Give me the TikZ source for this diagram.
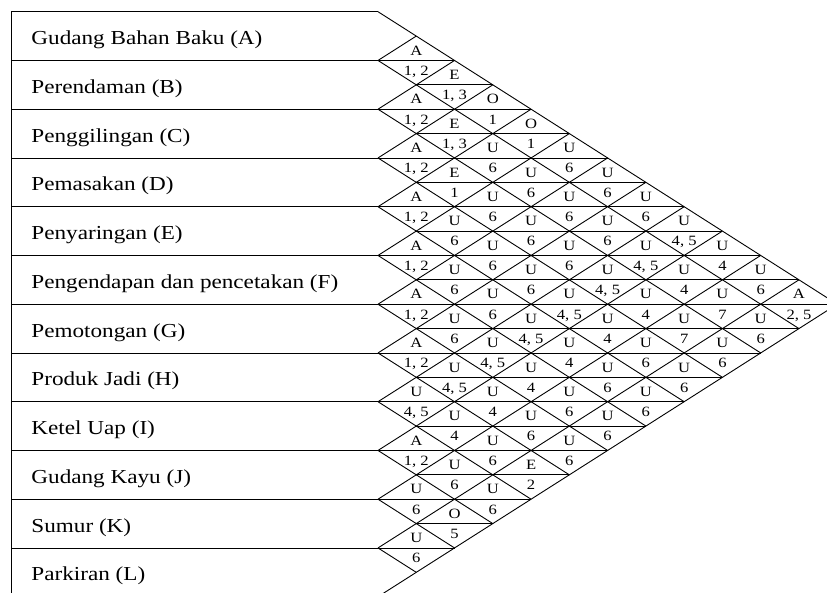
\documentclass[tikz,border=0pt]{standalone}
\usepackage{fontspec}
\setmainfont{Liberation Serif}[FakeStretch=1.17]
\newcommand{\cdx}{38.27}
\newcommand{\chh}{48.75}
\newcommand{\cyT}{11.7}
\newcommand{\cxL}{378}
\newcommand{\cxO}{11}
\newcommand{\relcell}[4]{%
  \node[rl] (u#1-#2) at ({\cxL+(#2-#1)*\cdx},{\cyT+(#1+#2+1)*\chh/2-5.3}) {#3};
  \node[rl] (v#1-#2) at ({\cxL+(#2-#1)*\cdx},{\cyT+(#1+#2+1)*\chh/2+14.8}) {#4};}
\begin{document}
\begin{tikzpicture}[x=1pt,y=-1pt,line width=0.9pt,
  lab/.style={anchor=base west,font=\fontsize{19.8}{22}\selectfont,inner sep=0pt},
  rl/.style={anchor=base,font=\fontsize{14.2}{16}\selectfont,inner sep=0pt},
  gl/.style={draw=black,line width=0.9pt}]
\useasboundingbox (0,0) rectangle (827,592);
% left frame
\draw[gl] (\cxO,\cyT) -- (\cxO,{\cyT+12*\chh});
\draw[gl] (\cxO,\cyT) -- (\cxL,\cyT);
\draw[gl] (\cxO,{\cyT+12*\chh}) -- (\cxL,{\cyT+12*\chh});
% row boundaries continued into the chart
\foreach \m in {1,...,11}
  \draw[gl] (\cxO,{\cyT+\m*\chh}) -- ({\cxL+\cdx*min(2*\m,24-2*\m)},{\cyT+\m*\chh});
% row-centre lines in the chart
\foreach \i in {1,...,10}
  \draw[gl] ({\cxL+\cdx},{\cyT+(\i+0.5)*\chh}) -- ({\cxL+\cdx*min(2*\i+1,23-2*\i)},{\cyT+(\i+0.5)*\chh});
% diagonals down-right
\foreach \m in {0,...,11}
  \draw[gl] (\cxL,{\cyT+\m*\chh}) -- ({\cxL+(12-\m)*\cdx},{\cyT+\m*\chh+(12-\m)*\chh/2});
% diagonals up-right
\foreach \m in {1,...,12}
  \draw[gl] (\cxL,{\cyT+\m*\chh}) -- ({\cxL+\m*\cdx},{\cyT+\m*\chh/2});
% department labels
\node[lab] (dA) at (31,{\cyT+0.5*\chh+8.5}) {Gudang Bahan Baku (A)};
\node[lab] (dB) at (31,{\cyT+1.5*\chh+8.5}) {Perendaman (B)};
\node[lab] (dC) at (31,{\cyT+2.5*\chh+8.5}) {Penggilingan (C)};
\node[lab] (dD) at (31,{\cyT+3.5*\chh+8.5}) {Pemasakan (D)};
\node[lab] (dE) at (31,{\cyT+4.5*\chh+8.5}) {Penyaringan (E)};
\node[lab] (dF) at (31,{\cyT+5.5*\chh+8.5}) {Pengendapan dan pencetakan (F)};
\node[lab] (dG) at (31,{\cyT+6.5*\chh+8.5}) {Pemotongan (G)};
\node[lab] (dH) at (31,{\cyT+7.5*\chh+8.5}) {Produk Jadi (H)};
\node[lab] (dI) at (31,{\cyT+8.5*\chh+8.5}) {Ketel Uap (I)};
\node[lab] (dJ) at (31,{\cyT+9.5*\chh+8.5}) {Gudang Kayu (J)};
\node[lab] (dK) at (31,{\cyT+10.5*\chh+8.5}) {Sumur (K)};
\node[lab] (dL) at (31,{\cyT+11.5*\chh+8.5}) {Parkiran (L)};
% k = 1
\relcell{0}{1}{A}{1, 2}
\relcell{1}{2}{A}{1, 2}
\relcell{2}{3}{A}{1, 2}
\relcell{3}{4}{A}{1, 2}
\relcell{4}{5}{A}{1, 2}
\relcell{5}{6}{A}{1, 2}
\relcell{6}{7}{A}{1, 2}
\relcell{7}{8}{U}{4, 5}
\relcell{8}{9}{A}{1, 2}
\relcell{9}{10}{U}{6}
\relcell{10}{11}{U}{6}
% k = 2
\relcell{0}{2}{E}{1, 3}
\relcell{1}{3}{E}{1, 3}
\relcell{2}{4}{E}{1}
\relcell{3}{5}{U}{6}
\relcell{4}{6}{U}{6}
\relcell{5}{7}{U}{6}
\relcell{6}{8}{U}{4, 5}
\relcell{7}{9}{U}{4}
\relcell{8}{10}{U}{6}
\relcell{9}{11}{O}{5}
% k = 3
\relcell{0}{3}{O}{1}
\relcell{1}{4}{U}{6}
\relcell{2}{5}{U}{6}
\relcell{3}{6}{U}{6}
\relcell{4}{7}{U}{6}
\relcell{5}{8}{U}{4, 5}
\relcell{6}{9}{U}{4}
\relcell{7}{10}{U}{6}
\relcell{8}{11}{U}{6}
% k = 4
\relcell{0}{4}{O}{1}
\relcell{1}{5}{U}{6}
\relcell{2}{6}{U}{6}
\relcell{3}{7}{U}{6}
\relcell{4}{8}{U}{4, 5}
\relcell{5}{9}{U}{4}
\relcell{6}{10}{U}{6}
\relcell{7}{11}{E}{2}
% k = 5
\relcell{0}{5}{U}{6}
\relcell{1}{6}{U}{6}
\relcell{2}{7}{U}{6}
\relcell{3}{8}{U}{4, 5}
\relcell{4}{9}{U}{4}
\relcell{5}{10}{U}{6}
\relcell{6}{11}{U}{6}
% k = 6
\relcell{0}{6}{U}{6}
\relcell{1}{7}{U}{6}
\relcell{2}{8}{U}{4, 5}
\relcell{3}{9}{U}{4}
\relcell{4}{10}{U}{6}
\relcell{5}{11}{U}{6}
% k = 7
\relcell{0}{7}{U}{6}
\relcell{1}{8}{U}{4, 5}
\relcell{2}{9}{U}{4}
\relcell{3}{10}{U}{6}
\relcell{4}{11}{U}{6}
% k = 8
\relcell{0}{8}{U}{4, 5}
\relcell{1}{9}{U}{4}
\relcell{2}{10}{U}{7}
\relcell{3}{11}{U}{6}
% k = 9
\relcell{0}{9}{U}{4}
\relcell{1}{10}{U}{7}
\relcell{2}{11}{U}{6}
% k = 10
\relcell{0}{10}{U}{6}
\relcell{1}{11}{U}{6}
% k = 11
\relcell{0}{11}{A}{2, 5}
\end{tikzpicture}
\end{document}
